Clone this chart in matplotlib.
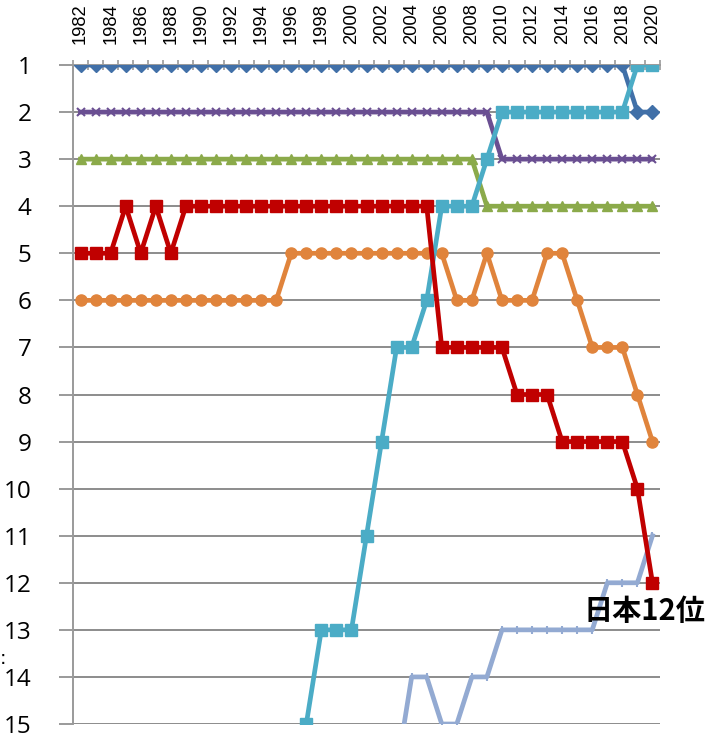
import numpy as np
import matplotlib
matplotlib.use("Agg")
import matplotlib.pyplot as plt

years = np.arange(1982, 2021)

# ranks (None = not on chart)
usa = [1] * 37 + [2, 2]
purple = [2] * 28 + [3] * 11
green = [3] * 27 + [4] * 12
japan = [5, 5, 5, 4, 5, 4, 5] + [4] * 17 + [7, 7, 7, 7, 7, 8, 8, 8, 9, 9, 9, 9, 9, 10, 12]
orange = [6] * 14 + [5] * 11 + [6, 6, 5, 6, 6, 6, 5, 5, 6, 7, 7, 7, 8, 9]
china = [None] * 15 + [15, 13, 13, 13, 11, 9, 7, 7, 6, 4, 4, 4, 3, 2, 2, 2, 2, 2, 2, 2, 2, 2, 1, 1]
korea = [None] * 21 + [16, 14, 14, 15, 15, 14, 14, 13, 13, 13, 13, 13, 13, 13, 12, 12, 12, 11]

def arr(v):
    return np.array([np.nan if x is None else x for x in v], dtype=float)

fig = plt.figure(figsize=(7.11, 7.35), dpi=100)
ax = fig.add_axes([73 / 711, 1 - 724 / 735, (660 - 73) / 711, (724 - 65) / 735])

lw = 3.4
ax.plot(years, arr(usa), color="#4170A8", lw=lw, marker="D", ms=7, zorder=3)
ax.plot(years, arr(purple), color="#6A4F92", lw=lw, marker="x", ms=6, mew=1.5, zorder=3)
ax.plot(years, arr(green), color="#8BAA4A", lw=lw, marker="^", ms=7, zorder=3)
ax.plot(years, arr(orange), color="#E0843C", lw=lw, marker="o", ms=8, zorder=3)
ax.plot(years, arr(korea), color="#93AAD2", lw=lw, marker="|", ms=6, mew=1.5, zorder=3)
ax.plot(years, arr(china), color="#4BACC6", lw=lw, marker="s", ms=8, zorder=4)
ax.plot(years, arr(japan), color="#C00000", lw=lw, marker="s", ms=8, zorder=5)

ax.set_xlim(1981.5, 2020.5)
ax.set_ylim(15, 1)
ax.set_yticks(range(1, 16))
ax.yaxis.grid(True, color="#8C8C8C", lw=1.4)
ax.set_axisbelow(True)
for s in ["right", "bottom"]:
    ax.spines[s].set_visible(False)
ax.spines["left"].set_color("#9A9A9A")
ax.spines["left"].set_linewidth(1.4)
ax.spines["top"].set_color("#9A9A9A")
ax.spines["top"].set_linewidth(1.4)

ax.xaxis.tick_top()
ax.set_xticks(years[::2])
ax.set_xticklabels([str(y) for y in years[::2]], rotation=90,
                   fontsize=13.2, family="Liberation Sans")
ax.set_xticks(np.arange(1981.5, 2021, 1), minor=True)
ax.tick_params(axis="x", which="major", length=0, pad=15)
ax.tick_params(axis="x", which="minor", length=7, direction="inout", color="#9A9A9A", width=1.2)
ax.tick_params(axis="y", length=10, color="#9A9A9A", width=1.4, pad=20, labelsize=17.5)
for t in ax.get_yticklabels():
    t.set_family("Open Sans")

ax.text(2015.4, 12.6, "日本12位", fontsize=21, fontweight="bold",
        family=["Noto Sans CJK JP", "DejaVu Sans"], va="center", ha="left",
        clip_on=False, zorder=6)
fig.text(0.0, 1 - 658 / 735, ":", fontsize=14, va="center", ha="left")

fig.savefig("out.png", dpi=100)
